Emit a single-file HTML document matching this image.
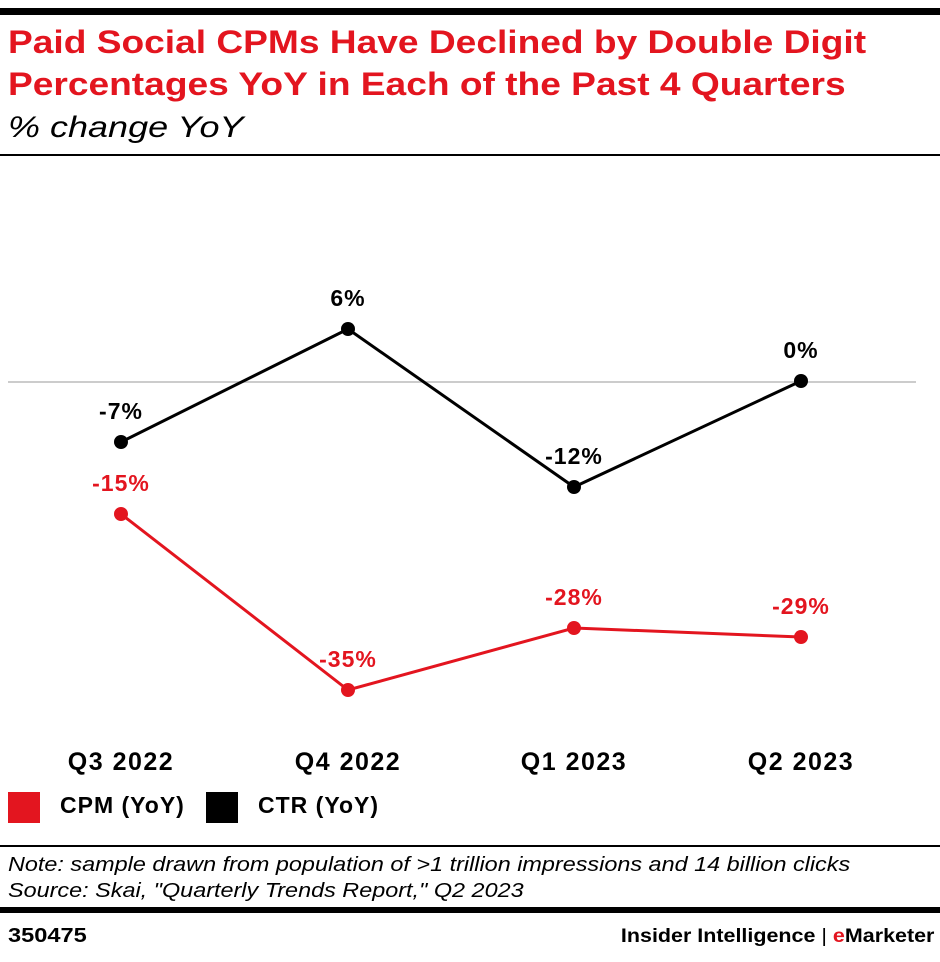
<!DOCTYPE html>
<html><head><meta charset="utf-8"><style>
body{margin:0;background:#fff;width:940px;height:962px;overflow:hidden;font-family:"Liberation Sans",sans-serif;position:relative}
.a{position:absolute;white-space:nowrap}
.s{transform-origin:0 0}
</style></head><body>
<div class="a" style="left:0;top:8px;width:940px;height:7px;background:#000"></div>
<div class="a s" style="left:8px;top:21px;font-size:32px;font-weight:bold;color:#e3151f;line-height:42px;transform:scaleX(1.16)">Paid Social CPMs Have Declined by Double Digit<br>Percentages YoY in Each of the Past 4 Quarters</div>
<div class="a s" style="left:8px;top:111px;font-size:30px;font-style:italic;color:#000;transform:scaleX(1.2)">% change YoY</div>
<div class="a" style="left:0;top:154px;width:940px;height:2px;background:#000"></div>
<svg class="a" style="left:0;top:0" width="940" height="962">
<line x1="8" y1="382" x2="916" y2="382" stroke="#bbb" stroke-width="1.5"/>
<polyline points="121,442 348,329 574,487 801,381" fill="none" stroke="#000" stroke-width="3"/>
<polyline points="121,514 348,690 574,628 801,637" fill="none" stroke="#e3151f" stroke-width="3"/>
<g fill="#000"><circle cx="121" cy="442" r="7"/><circle cx="348" cy="329" r="7"/><circle cx="574" cy="487" r="7"/><circle cx="801" cy="381" r="7"/></g>
<g fill="#e3151f"><circle cx="121" cy="514" r="7"/><circle cx="348" cy="690" r="7"/><circle cx="574" cy="628" r="7"/><circle cx="801" cy="637" r="7"/></g>
<g font-family="Liberation Sans" font-weight="bold" font-size="23" letter-spacing="1" text-anchor="middle">
<text x="121" y="419">-7%</text><text x="348" y="306">6%</text><text x="574" y="464">-12%</text><text x="801" y="358">0%</text>
<g fill="#e3151f"><text x="121" y="491">-15%</text><text x="348" y="667">-35%</text><text x="574" y="605">-28%</text><text x="801" y="614">-29%</text></g>
<g font-size="25" letter-spacing="1.5"><text x="121" y="770">Q3 2022</text><text x="348" y="770">Q4 2022</text><text x="574" y="770">Q1 2023</text><text x="801" y="770">Q2 2023</text></g>
</g>
</svg>
<div class="a" style="left:8px;top:792px;width:32px;height:31px;background:#e3151f"></div>
<div class="a" style="left:60px;top:792px;font-size:23px;font-weight:bold;letter-spacing:1px">CPM (YoY)</div>
<div class="a" style="left:206px;top:792px;width:32px;height:31px;background:#000"></div>
<div class="a" style="left:258px;top:792px;font-size:23px;font-weight:bold;letter-spacing:1px">CTR (YoY)</div>
<div class="a" style="left:0;top:845px;width:940px;height:2px;background:#000"></div>
<div class="a s" style="left:8px;top:852px;font-size:20px;font-style:italic;line-height:26px;transform:scaleX(1.17)">Note: sample drawn from population of &gt;1 trillion impressions and 14 billion clicks<br>Source: Skai, "Quarterly Trends Report," Q2 2023</div>
<div class="a" style="left:0;top:907px;width:940px;height:6px;background:#000"></div>
<div class="a s" style="left:8px;top:925px;font-size:20px;font-weight:bold;transform:scaleX(1.18)">350475</div>
<div class="a" style="right:6px;top:926px;font-size:19px;font-weight:bold;transform:scaleX(1.13);transform-origin:100% 0">Insider Intelligence <span style="font-weight:normal">|</span> <span style="color:#e3151f">e</span>Marketer</div>
</body></html>
